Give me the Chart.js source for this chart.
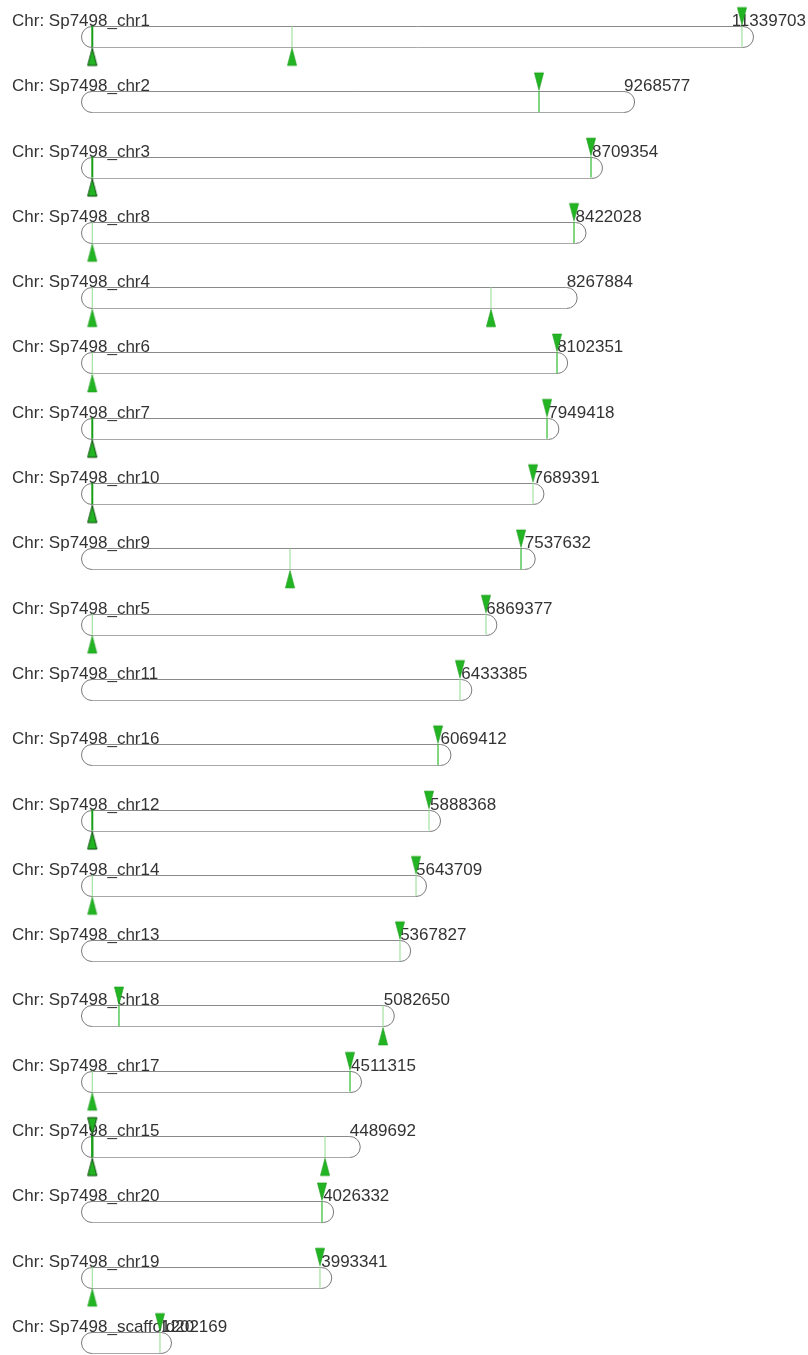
<!DOCTYPE html>
<html><head><meta charset="utf-8">
<script src="https://cdn.jsdelivr.net/npm/chart.js@4.4.1/dist/chart.umd.min.js"></script>
<style>html,body{margin:0;padding:0;background:#fff}#wrap{width:808px;height:1355px;position:relative;overflow:hidden}canvas{display:block}</style>
</head><body><div id="wrap"><canvas id="c" width="808" height="1355"></canvas></div>
<script>
// ---- data ----
const chromNames = ["Sp7498_chr1","Sp7498_chr2","Sp7498_chr3","Sp7498_chr8","Sp7498_chr4","Sp7498_chr6","Sp7498_chr7","Sp7498_chr10","Sp7498_chr9","Sp7498_chr5","Sp7498_chr11","Sp7498_chr16","Sp7498_chr12","Sp7498_chr14","Sp7498_chr13","Sp7498_chr18","Sp7498_chr17","Sp7498_chr15","Sp7498_chr20","Sp7498_chr19","Sp7498_scaffold20"];
const chromLengths = [11339703,9268577,8709354,8422028,8267884,8102351,7949418,7689391,7537632,6869377,6433385,6069412,5888368,5643709,5367827,5082650,4511315,4489692,4026332,3993341,1202169];
// markers: chromosome row index, position (bp), triangle side, strength (1 light, 2 medium, 3 heavy)
const markerChrom  = [0,0,0, 1, 2,2, 3,3, 4,4, 5,5, 6,6, 7,7, 8,8, 9,9, 10, 11, 12,12, 13,13, 14, 15,15, 16,16, 17,17,17, 18, 19,19, 20];
const markerPos    = [5000,3484000,11322000, 7786000, 5000,8692000, 5000,8396000, 5000,6950000, 5000,8100000, 5000,7926000, 5000,7682000, 3449000,7473000, 5000,6863000, 6410000, 6027000, 5000,5870000, 5000,5644000, 5365000, 470000,5069000, 5000,4494000, 5000,5000,4059000, 4006000, 5000,3971000, 1184000];
const markerSide   = ["below","below","above", "above", "below","above", "below","above", "below","below", "below","above", "below","above", "below","above", "below","above", "below","above", "above", "above", "below","above", "below","above", "above", "above","below", "below","above", "above","below","below", "above", "below","above", "above"];
const markerWeight = [3,1,1, 2, 3,2, 1,2, 1,1, 1,2, 3,2, 3,1, 1,2, 1,1, 1, 2, 3,1, 1,1, 1, 2,1, 1,2, 3,3,1, 2, 1,1, 1];

// ---- layout (pixels) ----
const W = 808, H = 1355;
const X0PX = 92, XENDPX = 743;           // pixel of 0 bp and of chr1 end
const ROW0 = 36.5, ROWSTEP = 65.3;       // centre of first row, row spacing
const HALF = 10.5;                        // half bar height
const FONT = '17px "Liberation Sans", Arial, sans-serif';
const k = (XENDPX - X0PX) / chromLengths[0];

function triCanvas(side, dark) {
  const c = document.createElement('canvas');
  c.width = 12; c.height = 80;
  const g = c.getContext('2d');
  const cx = 6, cy = 40;
  g.beginPath();
  if (side === 'below') {
    g.moveTo(cx, cy + HALF + 1);
    g.lineTo(cx + 4.6, cy + HALF + 18.5);
    g.lineTo(cx - 4.6, cy + HALF + 18.5);
  } else {
    g.moveTo(cx, cy - HALF - 1);
    g.lineTo(cx + 4.6, cy - HALF - 18.5);
    g.lineTo(cx - 4.6, cy - HALF - 18.5);
  }
  g.closePath();
  g.fillStyle = '#22b422';
  g.fill();
  g.lineWidth = dark ? 1 : 0.6;
  g.strokeStyle = dark ? '#0d4d0d' : '#1c9a1c';
  g.stroke();
  return c;
}
const triStyles = {
  below: [triCanvas('below', false), triCanvas('below', true)],
  above: [triCanvas('above', false), triCanvas('above', true)]
};

const lineColor = {1: '#8fdc8f', 2: '#3fc03f', 3: '#1a9e1a'};
const lineWidth = {1: 1, 2: 1.3, 3: 2};

const linePoints = markerPos.map((p, i) => ({x: p, y: markerChrom[i]}));
const triPoints = markerPos.map((p, i) => ({x: p, y: markerChrom[i]}));

const chromPlugin = {
  id: 'chroms',
  beforeDatasetsDraw(chart) {
    const ctx = chart.ctx, xs = chart.scales.x, ys = chart.scales.y;
    ctx.save();
    chromLengths.forEach((len, i) => {
      const x0 = xs.getPixelForValue(0), x1 = xs.getPixelForValue(len);
      const yc = ys.getPixelForValue(i);
      const top = Math.round(yc - HALF) + 0.5, bot = Math.round(yc + HALF) + 0.5;
      const r = (bot - top) / 2, ym = (top + bot) / 2;
      ctx.lineWidth = 1;
      ctx.strokeStyle = '#8a8a8a';
      ctx.beginPath(); ctx.moveTo(x0, top); ctx.lineTo(x1, top); ctx.stroke();
      ctx.strokeStyle = '#a8a8a8';
      ctx.beginPath(); ctx.moveTo(x0, bot); ctx.lineTo(x1, bot); ctx.stroke();
      ctx.strokeStyle = '#7a7a7a';
      ctx.beginPath(); ctx.arc(x1, ym, r, -Math.PI / 2, Math.PI / 2); ctx.stroke();
      ctx.beginPath(); ctx.arc(x0, ym, r, Math.PI / 2, Math.PI * 1.5); ctx.stroke();
      // labels
      ctx.font = FONT;
      ctx.fillStyle = '#333';
      ctx.textBaseline = 'alphabetic';
      ctx.textAlign = 'left';
      ctx.fillText('Chr: ' + chromNames[i], 12, top - 0.5);
      const t = String(len);
      const tw = ctx.measureText(t).width;
      ctx.fillText(t, Math.min(x1, W - tw - 2), top - 0.5);
    });
    ctx.restore();
  }
};

new Chart(document.getElementById('c'), {
  type: 'scatter',
  data: {
    datasets: [
      {
        label: 'marker lines',
        data: linePoints,
        order: 2,
        clip: false,
        pointStyle: 'line',
        rotation: 90,
        pointRadius: HALF,
        pointHoverRadius: HALF,
        borderColor: markerWeight.map(w => lineColor[w]),
        backgroundColor: markerWeight.map(w => lineColor[w]),
        pointBorderWidth: markerWeight.map(w => lineWidth[w]),
        borderWidth: markerWeight.map(w => lineWidth[w])
      },
      {
        label: 'marker triangles',
        data: triPoints,
        order: 1,
        clip: false,
        pointStyle: markerSide.map((s, i) => triStyles[s][markerWeight[i] === 3 ? 1 : 0]),
        pointRadius: 6,
        pointHoverRadius: 6
      }
    ]
  },
  options: {
    responsive: false,
    animation: false,
    devicePixelRatio: 1,
    layout: {padding: 0, autoPadding: false},
    events: [],
    plugins: {legend: {display: false}, tooltip: {enabled: false}},
    scales: {
      x: {type: 'linear', display: false, min: -X0PX / k, max: (W - X0PX) / k},
      y: {type: 'linear', display: false, reverse: true, min: -ROW0 / ROWSTEP, max: (H - ROW0) / ROWSTEP}
    }
  },
  plugins: [chromPlugin]
});
</script>
</body></html>
